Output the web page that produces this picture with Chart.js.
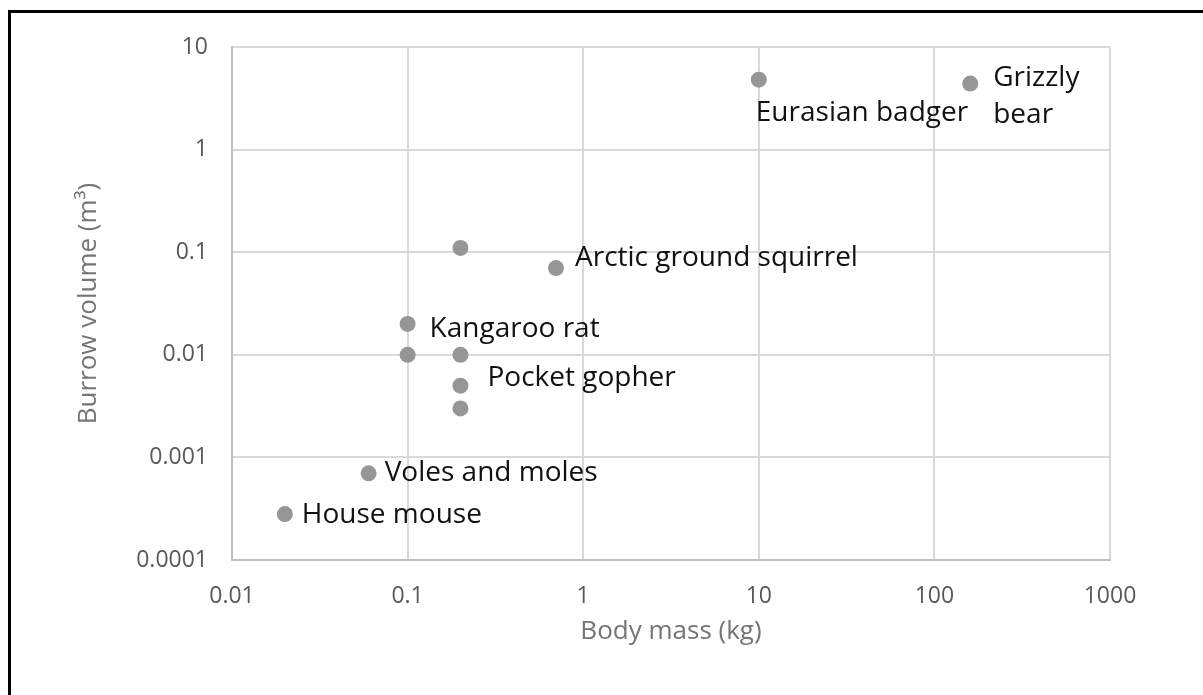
<!DOCTYPE html>
<html>
<head>
<meta charset="utf-8">
<script src="https://cdn.jsdelivr.net/npm/chart.js@4"></script>
<style>
    html, body { margin: 0; padding: 0; background: #fff; }
    #wrap { position: relative; width: 1203px; height: 695px; overflow: hidden; }
    #frame {
        position: absolute; left: 8px; top: 10px; width: 1300px; height: 800px;
        border-top: 3px solid #000; border-left: 3px solid #000; pointer-events: none;
    }
</style>
</head>
<body>
<div id="wrap">
    <canvas id="burrowChart" width="1203" height="695"></canvas>
    <div id="frame"></div>
</div>
<script>
// -------------------------
// DATOS
// -------------------------
const bodyMass     = [0.02, 0.06, 0.1, 0.1, 0.2, 0.2, 0.2, 0.2, 0.7, 10, 160];
const burrowVolume = [0.00028, 0.0007, 0.02, 0.01, 0.01, 0.005, 0.003, 0.11, 0.07, 4.8, 4.4];
const pointLabels  = ["House mouse", "Voles and moles", "Kangaroo rat", "", "", "Pocket gopher", "", "",
                      "Arctic ground squirrel", "Eurasian badger", "Grizzly\nbear"];

const xTickValues = [0.01, 0.1, 1, 10, 100, 1000];
const xTickLabels = ["0.01", "0.1", "1", "10", "100", "1000"];
const yTickValues = [0.0001, 0.001, 0.01, 0.1, 1, 10];
const yTickLabels = ["0.0001", "0.001", "0.01", "0.1", "1", "10"];

// where each label sits relative to its point (px)
const labelPlacement = {
    "House mouse":            { dx: 17, dy: 1 },
    "Voles and moles":        { dx: 16, dy: 0 },
    "Kangaroo rat":           { dx: 22, dy: 5 },
    "Pocket gopher":          { dx: 27, dy: -8 },
    "Arctic ground squirrel": { dx: 19, dy: -10 },
    "Eurasian badger":        { dx: -3, dy: 33 },
    "Grizzly\nbear":          { dx: 23, dy: -6 }
};

const FONT = "'Open Sans', 'Noto Sans', sans-serif";

// -------------------------
// ETIQUETAS DE PUNTOS
// -------------------------
const pointLabelPlugin = {
    id: "pointLabels",
    afterDatasetsDraw(chart) {
        const ctx = chart.ctx;
        const meta = chart.getDatasetMeta(0);
        ctx.save();
        ctx.font = "28px " + FONT;
        ctx.fillStyle = "#111";
        ctx.textAlign = "left";
        ctx.textBaseline = "middle";
        pointLabels.forEach((text, i) => {
            if (!text) return;
            const pt = meta.data[i];
            const p = labelPlacement[text] || { dx: 16, dy: 0 };
            text.split("\n").forEach((line, j) => {
                ctx.fillText(line, pt.x + p.dx, pt.y + p.dy + j * 37);
            });
        });
        ctx.restore();
    }
};

function decadeTicks(values) {
    return function (scale) {
        scale.ticks = values.map(v => ({ value: v }));
    };
}

const ctx = document.getElementById("burrowChart").getContext("2d");

new Chart(ctx, {
    type: "scatter",
    data: {
        datasets: [{
            data: bodyMass.map((m, i) => ({ x: m, y: burrowVolume[i] })),
            backgroundColor: "#969696",
            borderWidth: 0,
            pointRadius: 8,
            pointHoverRadius: 8
        }]
    },
    options: {
        responsive: false,
        devicePixelRatio: 1,
        animation: false,
        layout: { autoPadding: false, padding: { top: 47, right: 93, left: 0, bottom: 0 } },
        plugins: { legend: { display: false }, tooltip: { enabled: false } },
        scales: {
            x: {
                type: "logarithmic",
                min: 0.01,
                max: 1000,
                afterBuildTicks: decadeTicks(xTickValues),
                afterFit(scale) { scale.height = 135; },
                grid: { color: "#d9d9d9", lineWidth: 2, drawTicks: false },
                border: { color: "#bfbfbf", width: 2 },
                ticks: {
                    padding: 23,
                    color: "#595959",
                    font: { family: FONT, size: 23 },
                    callback: (v) => xTickLabels[xTickValues.indexOf(v)] ?? ""
                },
                title: {
                    display: true,
                    text: "Body mass (kg)",
                    color: "#757575",
                    font: { family: FONT, size: 26 },
                    padding: { top: 0, bottom: 48 }
                }
            },
            y: {
                type: "logarithmic",
                min: 0.0001,
                max: 10,
                afterBuildTicks: decadeTicks(yTickValues),
                afterFit(scale) { scale.width = 232; },
                grid: { color: "#d9d9d9", lineWidth: 2, drawTicks: false },
                border: { color: "#bfbfbf", width: 2 },
                ticks: {
                    padding: 24,
                    color: "#595959",
                    font: { family: FONT, size: 23 },
                    callback: (v) => yTickLabels[yTickValues.indexOf(v)] ?? ""
                },
                title: {
                    display: true,
                    text: "Burrow volume (m³)",
                    color: "#757575",
                    font: { family: FONT, size: 26 },
                    padding: { top: 73, bottom: 0 }
                }
            }
        }
    },
    plugins: [pointLabelPlugin]
});
</script>
</body>
</html>
